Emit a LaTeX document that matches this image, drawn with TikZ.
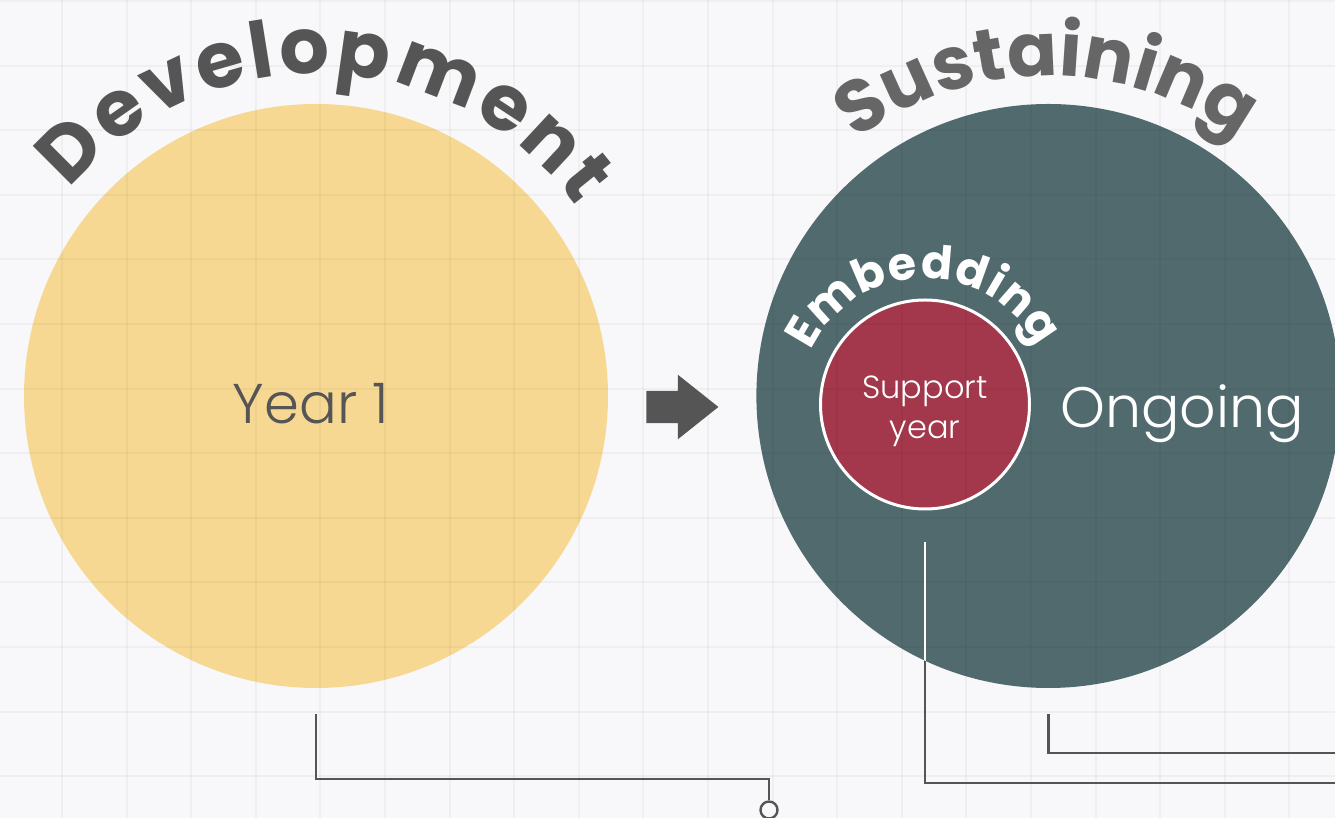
\documentclass[tikz,border=0pt]{standalone}
\usepackage{fontspec}
\setmainfont{Poppins}
\newfontfamily\thinfont{Poppins}[UprightFont=* Light]
\usepackage[svgnames]{xcolor}
\usetikzlibrary{positioning,shapes.arrows,decorations.text}
\definecolor{paper}{HTML}{F8F8FA}
\definecolor{ink}{HTML}{555555}
\definecolor{inksoft}{HTML}{666666}
\definecolor{devfill}{HTML}{F7D893}
\definecolor{susfill}{HTML}{516A6E}
\definecolor{supfill}{HTML}{A3374B}

\begin{document}
\begin{tikzpicture}[
  x=1pt,y=1pt,
  phase/.style={circle,inner sep=0pt,minimum size=584pt},
  gridline/.style={draw=black,opacity=.035,line width=2pt},
  conn/.style={draw=ink,line width=2.4pt},
  arch/.style 2 args={decorate,decoration={text along path,text align={fit to path},text color=#1,text={#2}}}
]
\clip (0,0) rectangle (1335,818);
\fill[paper] (0,0) rectangle (1335,818);

\node[phase,fill=devfill] (dev) at (316,422) {};
\node[phase,fill=susfill,right=148pt of dev] (sus) {};
\node[circle,fill=supfill,draw=white,line width=3pt,minimum size=209pt,inner sep=0pt] (sup) at (925,413.5) {};

\foreach \k in {0,...,21}
  \draw[gridline] (-2.6+64.6*\k,0) -- (-2.6+64.6*\k,818);
\foreach \k in {0,...,12}
  \draw[gridline] (0,817-64.6*\k) -- (1335,817-64.6*\k);

\node[single arrow,fill=ink,inner xsep=0pt,inner ysep=16pt,minimum height=72pt,
  single arrow head extend=16pt,single arrow tip angle=77,anchor=tail] (arr) at ([shift={(38,-11)}]dev.east) {};

\node[font=\thinfont\fontsize{56}{56}\selectfont,text=ink] (yr) at ([shift={(-5,-8)}]dev.center) {Year 1};
\node[font=\thinfont\fontsize{57}{57}\selectfont,text=white,anchor=base] (ong) at (1182,390) {Ongoing};
\node[font=\thinfont\fontsize{32}{40}\selectfont,text=white,align=center] (supl) at ([yshift=-7pt]sup.center) {Support\\year};

\path[arch={ink}{|\fontsize{78}{78}\selectfont\bfseries|Development}]
  ([shift={(140:322)}]dev.center) arc[start angle=140,end angle=36,radius=322];
\path[arch={inksoft}{|\fontsize{74}{74}\selectfont\bfseries|Sustaining}]
  ([shift={(127:320)}]sus.center) arc[start angle=127,end angle=54,radius=320];
\path[arch={white}{|\fontsize{46}{46}\selectfont\bfseries|Embedding}]
  ([shift={(155:126)}]sup.center) arc[start angle=155,end angle=27,radius=126];

\node[circle,draw=ink,fill=paper,line width=2.4pt,minimum size=17pt,inner sep=0pt] (knob) at (769,8) {};
\coordinate (out2) at (1340,35);
\coordinate (out3) at (1340,65);
\draw[conn] ([yshift=-26pt]dev.south) -- ++(0,-65) -| (knob);
\draw[conn] ([yshift=-26pt]sus.south) |- (out3);
\draw[conn] ([yshift=-32pt]sup.south) |- (out2);
\begin{scope}
  \clip (sus) circle[radius=292];
  \draw[conn,draw=white] ([yshift=-32pt]sup.south) |- (out2);
\end{scope}
\end{tikzpicture}
\end{document}
